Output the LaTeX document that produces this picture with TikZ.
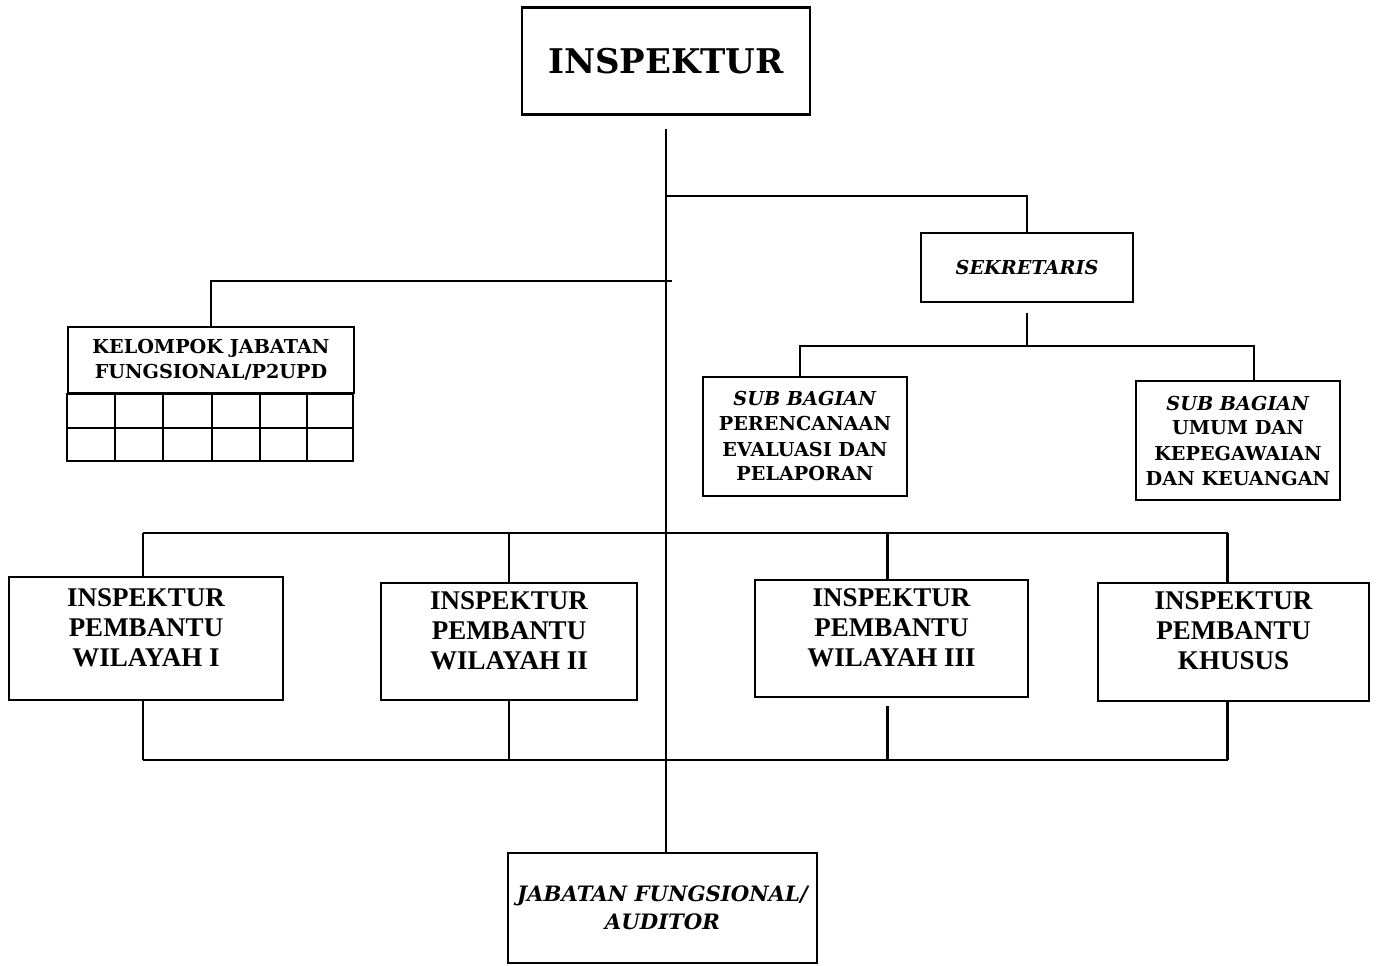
\documentclass[tikz,border=0pt]{standalone}
\usepackage{fontspec}
\setmainfont{Liberation Serif}
\newfontfamily\bookfont{DejaVu Serif}
\begin{document}
\begin{tikzpicture}[x=0.5pt, y=-0.5pt, line width=1.2pt,
  box/.style={draw, rectangle, align=center, inner sep=2pt},
  book/.style={font=\bookfont\bfseries\fontsize{9.6}{12.5}\selectfont},
  bookit/.style={font=\bookfont\bfseries\itshape\fontsize{9.6}{12.5}\selectfont},
  times/.style={font=\bfseries\fontsize{13.5}{15}\selectfont,
    execute at end node={\rule[-11pt]{0pt}{0pt}}}]
  \useasboundingbox (0,0) rectangle (1377,965);
  % \draw[help lines] (0,0) grid[step=100] (1377,965);
  \node at (666, 61) [box, minimum width=144pt, minimum height=53.5pt,
  font=\bookfont\bfseries\fontsize{17}{20}\selectfont] (insp) {INSPEKTUR};
  \node at (1027, 267.5) [box, bookit, minimum width=106pt, minimum height=34.5pt]
  (sek) {SEKRETARIS};
  \node at (805, 436.5) [box, book, minimum width=102pt, minimum height=59.5pt]
  (sub1) {\textit{SUB BAGIAN}\\ PERENCANAAN\\ EVALUASI DAN\\ PELAPORAN};
  \node at (1238, 440.5) [box, book, minimum width=102pt, minimum height=59.5pt]
  (sub2) {\textit{SUB BAGIAN}\\ UMUM DAN\\ KEPEGAWAIAN\\ DAN KEUANGAN};
  \node at (211, 360) [box, book, minimum width=143pt, minimum height=33pt]
  (kel) {KELOMPOK JABATAN\\ FUNGSIONAL/P2UPD};
  \node at (146, 638.5) [box, times, minimum width=137pt, minimum height=61.5pt]
  (ip1) {INSPEKTUR\\ PEMBANTU\\ WILAYAH I};
  \node at (509, 641.5) [box, times, minimum width=128pt, minimum height=58.5pt]
  (ip2) {INSPEKTUR\\ PEMBANTU\\ WILAYAH II};
  \node at (891.5, 638.5) [box, times, minimum width=136.5pt, minimum height=58.5pt]
  (ip3) {INSPEKTUR\\ PEMBANTU\\ WILAYAH III};
  \node at (1233.5, 642) [box, times, minimum width=135.5pt, minimum height=59pt]
  (ip4) {INSPEKTUR\\ PEMBANTU\\ KHUSUS};
  \node at (662.5, 908) [box, minimum width=154.5pt, minimum height=55pt,
  font=\bookfont\bfseries\itshape\fontsize{10.6}{14}\selectfont]
  (jab) {JABATAN FUNGSIONAL/\\ AUDITOR};

  % kotak-kotak di bawah kelompok jabatan fungsional
  \draw (kel.south west) rectangle ++(286, 67);
  \draw (kel.south west) ++(0, 34) -- ++(286, 0);
  \foreach \x in {48, 96, 145, 193, 240}
    \draw (kel.south west) ++(\x, 0) -- ++(0, 67);

  \coordinate (tsek) at (666, 196);
  \coordinate (tkel) at (672, 281);
  \coordinate (bsek) at (1027, 346);
  \coordinate (bus1) at (666, 533);
  \coordinate (bus2) at (666, 760);

  \draw ([yshift=-6.5pt]insp.south) -- (insp.south |- jab.north);
  \draw (tsek) -| (sek.north);
  \draw (tkel) -| (kel.north);
  \draw ([yshift=-5pt]sek.south) -- (bsek);
  \draw ([xshift=-2.5pt]sub1.north) -- ([xshift=-2.5pt]sub1.north |- bsek)
    -- ([xshift=8pt]sub2.north |- bsek) -- ([xshift=8pt]sub2.north);
  \draw ([xshift=-1.5pt]ip1.north |- bus1) -- ([xshift=-3pt]ip4.north |- bus1);
  \draw ([xshift=-1.5pt]ip1.north) -- ([xshift=-1.5pt]ip1.north |- bus1);
  \draw (ip2.north) -- (ip2.north |- bus1);
  \draw ([xshift=-2pt]ip3.north) -- ([xshift=-2pt]ip3.north |- bus1);
  \draw ([xshift=-3pt]ip4.north) -- ([xshift=-3pt]ip4.north |- bus1);
  \draw ([xshift=-1.5pt]ip1.south) -- ([xshift=-1.5pt]ip1.south |- bus2);
  \draw (ip2.south) -- (ip2.south |- bus2);
  \draw ([xshift=-2pt, yshift=-4pt]ip3.south) -- ([xshift=-2pt]ip3.south |- bus2);
  \draw ([xshift=-3pt]ip4.south) -- ([xshift=-3pt]ip4.south |- bus2);
  \draw ([xshift=-1.5pt]ip1.south |- bus2) -- ([xshift=-3pt]ip4.south |- bus2);
\end{tikzpicture}
\end{document}
